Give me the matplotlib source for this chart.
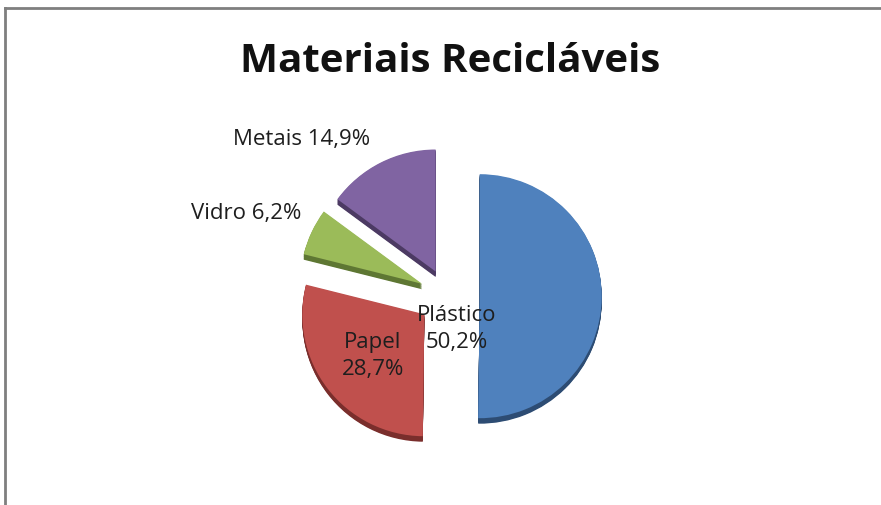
import matplotlib
matplotlib.use("Agg")
import matplotlib.pyplot as plt
from matplotlib.lines import Line2D

# recyclable materials share (%)
categories = ["Plástico", "Papel", "Vidro", "Metais"]
shares = [50.2, 28.7, 6.2, 14.9]
shares_txt = ["50,2%", "28,7%", "6,2%", "14,9%"]

top_colors = ["#4f81bd", "#c0504d", "#9bbb59", "#8064a2"]
side_colors = ["#2d4c73", "#7a2e2c", "#5e7733", "#4c3a63"]
explode = [0.26, 0.245, 0.235, 0.225]

W, H = 881, 506
CX, CY, R = 448, 297, 122  # pie centre and radius in pixels

plt.rcParams["font.family"] = ["Open Sans", "DejaVu Sans"]

fig = plt.figure(figsize=(W / 100, H / 100), dpi=100)
ax = fig.add_axes([0, 0, 1, 1])

# extruded edge: dark copies stacked below the top face
depth = 0.045
steps = 8
for i in range(steps, 0, -1):
    off = depth * i / steps
    ax.pie(shares, colors=side_colors, explode=explode, startangle=90,
           counterclock=False, radius=1, center=(0, -off),
           wedgeprops=dict(linewidth=0))

wedges, _ = ax.pie(shares, colors=top_colors, explode=explode, startangle=90,
                   counterclock=False, radius=1, center=(0, 0),
                   wedgeprops=dict(linewidth=0))

ax.set_aspect("equal")
ax.set_xlim(-CX / R, (W - CX) / R)
ax.set_ylim(-(H - CY) / R, CY / R)
ax.axis("off")


def fx(x):
    return x / W


def fy(y):
    return 1 - y / H


fig.text(fx(450), fy(61), "Materiais Recicláveis", ha="center", va="center",
         fontsize=29, fontweight="bold", color="#111111")

lab = dict(fontsize=16, color="#1e1e1e", va="center")
fig.text(fx(457), fy(329), f"{categories[0]}\n{shares_txt[0]}", ha="center",
         linespacing=1.4, **lab)
fig.text(fx(373), fy(356), f"{categories[1]}\n{shares_txt[1]}", ha="center",
         linespacing=1.4, **lab)
fig.text(fx(246), fy(214), f"{categories[2]} {shares_txt[2]}", ha="center", **lab)
fig.text(fx(302), fy(140), f"{categories[3]} {shares_txt[3]}", ha="center", **lab)

# chart area frame (top and left edges visible)
fig.add_artist(Line2D([fx(5), 1], [fy(9), fy(9)], color="#7f7f7f", lw=2))
fig.add_artist(Line2D([fx(5), fx(5)], [fy(9), 0], color="#7f7f7f", lw=2))

fig.savefig("out.png", dpi=100, facecolor="white")
